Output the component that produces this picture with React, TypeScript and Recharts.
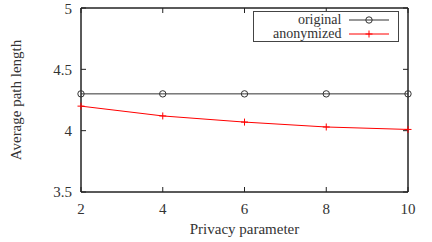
import { Line, LineChart, ReferenceArea, XAxis, YAxis } from "recharts";

const privacy = [2, 4, 6, 8, 10];
const original = [4.3, 4.3, 4.3, 4.3, 4.3];
const anonymized = [4.2, 4.12, 4.07, 4.03, 4.01];
const xTicks = [2, 4, 6, 8, 10];
const yTicks = [3.5, 4, 4.5, 5];

const data = privacy.map((p, i) => ({ p, original: original[i], anonymized: anonymized[i] }));

const FONT = "'Liberation Serif', 'DejaVu Serif', serif";
const TEXT = "#333";
const AXIS = "#222";
const ORIG_COLOR = "#333";
const ANON_COLOR = "#ff0000";

function CircleDot({ cx, cy }: any) {
  if (cx == null || cy == null) return null;
  return <circle cx={cx} cy={cy} r={3.2} fill="none" stroke={ORIG_COLOR} strokeWidth={1} />;
}

function PlusDot({ cx, cy }: any) {
  if (cx == null || cy == null) return null;
  return (
    <path d={`M${cx - 3.5},${cy}H${cx + 3.5}M${cx},${cy - 3.5}V${cy + 3.5}`} stroke={ANON_COLOR} strokeWidth={1} />
  );
}

function LegendBox() {
  const rows = [
    { name: "original", color: ORIG_COLOR, marker: "circle" },
    { name: "anonymized", color: ANON_COLOR, marker: "plus" },
  ];
  return (
    <div
      style={{
        position: "absolute",
        left: 253,
        top: 11,
        border: "1px solid #444",
        width: 146,
        height: 31,
        fontFamily: FONT,
        fontSize: 14,
        color: TEXT,
        background: "#fff",
        boxSizing: "border-box",
        paddingTop: 1,
      }}
    >
      {rows.map((r) => (
        <div key={r.name} style={{ display: "flex", alignItems: "center", height: 14, lineHeight: "14px" }}>
          <span style={{ width: 90, textAlign: "right", whiteSpace: "nowrap" }}>{r.name}</span>
          <svg width={50} height={14} style={{ marginLeft: 8 }}>
            <line x1={0} x2={40} y1={7} y2={7} stroke={r.color} strokeWidth={1} />
            {r.marker === "circle" ? (
              <circle cx={20} cy={7} r={3.2} fill="none" stroke={r.color} />
            ) : (
              <path d="M16.5,7H23.5M20,3.5V10.5" stroke={r.color} />
            )}
          </svg>
        </div>
      ))}
    </div>
  );
}

export default function App() {
  const tick = { fontSize: 15, fill: TEXT, fontFamily: FONT };
  return (
    <div style={{ position: "absolute", left: 0, top: 0, background: "#fff" }}>
      <LineChart width={432} height={242} data={data} margin={{ top: 7, right: 23, left: 0, bottom: 0 }}>
        <XAxis
          xAxisId="b"
          dataKey="p"
          type="number"
          domain={[2, 10]}
          ticks={xTicks}
          tick={tick}
          tickSize={-5}
          tickMargin={16}
          stroke={AXIS}
          height={50}
          label={{ value: "Privacy parameter", position: "insideBottom", offset: 8, style: tick }}
        />
        <XAxis
          xAxisId="t"
          orientation="top"
          dataKey="p"
          type="number"
          domain={[2, 10]}
          ticks={xTicks}
          tick={{ fontSize: 0 }}
          tickSize={-5}
          stroke={AXIS}
          height={1}
        />
        <YAxis
          yAxisId="l"
          domain={[3.5, 5]}
          ticks={yTicks}
          tick={tick}
          tickSize={-5}
          tickMargin={14}
          stroke={AXIS}
          width={81}
          label={{
            value: "Average path length",
            angle: -90,
            position: "insideLeft",
            offset: 16,
            style: { ...tick, textAnchor: "middle" },
          }}
        />
        <YAxis
          yAxisId="r"
          orientation="right"
          domain={[3.5, 5]}
          ticks={yTicks}
          tick={{ fontSize: 0 }}
          tickSize={-5}
          stroke={AXIS}
          width={1}
        />
        {/* plot frame */}
        <ReferenceArea
          xAxisId="b"
          yAxisId="l"
          x1={2}
          x2={10}
          y1={3.5}
          y2={5}
          fill="none"
          stroke={AXIS}
          strokeWidth={1}
          fillOpacity={0}
        />
        <Line
          xAxisId="t"
          yAxisId="r"
          dataKey="original"
          stroke="none"
          dot={false}
          activeDot={false}
          legendType="none"
          isAnimationActive={false}
        />
        <Line
          xAxisId="b"
          yAxisId="l"
          dataKey="original"
          stroke={ORIG_COLOR}
          strokeWidth={1}
          dot={<CircleDot />}
          activeDot={false}
          isAnimationActive={false}
        />
        <Line
          xAxisId="b"
          yAxisId="l"
          dataKey="anonymized"
          stroke={ANON_COLOR}
          strokeWidth={1}
          dot={<PlusDot />}
          activeDot={false}
          isAnimationActive={false}
        />
      </LineChart>
      <LegendBox />
    </div>
  );
}
